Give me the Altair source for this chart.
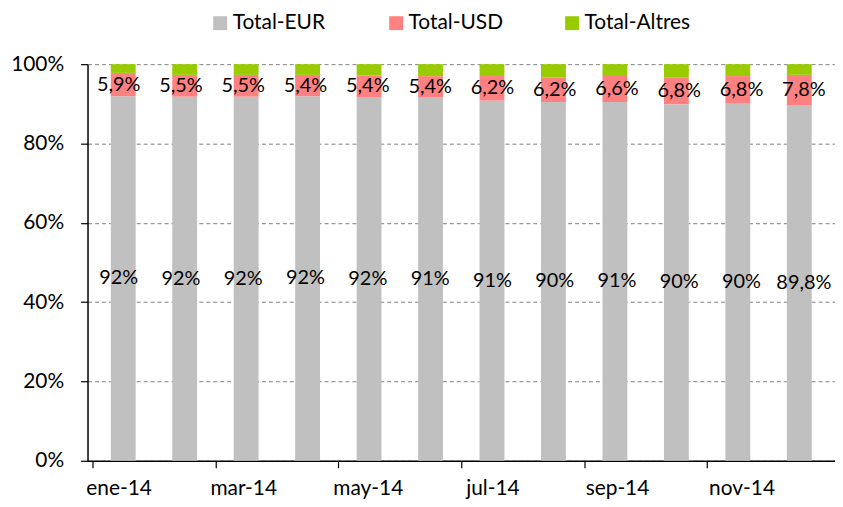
import altair as alt
import pandas as pd

months = ['ene-14', 'feb-14', 'mar-14', 'abr-14', 'may-14', 'jun-14',
          'jul-14', 'ago-14', 'sep-14', 'oct-14', 'nov-14', 'dic-14']
series_names = ['Total-EUR', 'Total-USD', 'Total-Altres']
colors = ['#C0C0C0', '#FF8080', '#99CC00']

eur = [92, 92, 92, 92, 92, 91, 91, 90, 91, 90, 90, 89.8]
usd = [5.9, 5.5, 5.5, 5.4, 5.4, 5.4, 6.2, 6.2, 6.6, 6.8, 6.8, 7.8]
altres = [2.2, 2.7, 2.7, 2.7, 2.9, 3.0, 3.0, 3.3, 3.0, 3.3, 3.0, 2.7]

rows = []
for i, m in enumerate(months):
    for k, (name, vals) in enumerate(zip(series_names, [eur, usd, altres])):
        rows.append({"idx": i, "month": m, "series": name, "value": vals[i], "order": k})
df = pd.DataFrame(rows)

FONT = "Lato"

base = alt.Chart(df).transform_stack(
    stack="value", groupby=["idx"],
    sort=[alt.SortField("order", order="ascending")],
    as_=["y0", "y1"], offset="normalize"
).transform_calculate(
    xc="datum.idx + 0.5",
    mid="(datum.y0 + datum.y1) / 2",
    label="replace(toString(datum.value), '.', ',') + '%'"
)

y_axis = alt.Axis(values=[0, 0.2, 0.4, 0.6, 0.8, 1.0], format=".0%",
                  grid=True, gridDash=[4, 3], gridColor="#808080",
                  gridWidth=1, domainColor="black", domainWidth=1.5,
                  tickColor="black", tickSize=7, tickWidth=1.2,
                  labelFont=FONT, labelFontSize=21, labelColor="black",
                  labelPadding=17)

bars = base.mark_bar(size=25).encode(
    x=alt.X("xc:Q", title=None,
            scale=alt.Scale(domain=[0, 12], nice=False, zero=False),
            axis=alt.Axis(orient="bottom", values=[0, 2, 4, 6, 8, 10],
                          labels=False, grid=False,
                          domainColor="black", domainWidth=1.5,
                          tickColor="black", tickSize=7, tickWidth=1.2)),
    y=alt.Y("y0:Q", title=None,
            scale=alt.Scale(domain=[0, 1], nice=False),
            axis=y_axis),
    y2="y1:Q",
    color=alt.Color("series:N",
                    scale=alt.Scale(domain=series_names, range=colors),
                    sort=series_names,
                    legend=alt.Legend(orient="none", legendX=123, legendY=-52,
                                      direction="horizontal", columns=3,
                                      gridAlign="all", columnPadding=47,
                                      symbolType="square", symbolSize=196,
                                      symbolStrokeWidth=0, labelFont=FONT,
                                      labelFontSize=21, labelColor="black",
                                      labelOffset=2, title=None, padding=0,
                                      labelLimit=300)),
    order=alt.Order("order:Q")
)

texts = base.transform_filter(
    "datum.series != 'Total-Altres'"
).mark_text(font=FONT, fontSize=20, color="black", baseline="middle", align="center").encode(
    x=alt.X("month:O", title=None, sort=months,
            scale=alt.Scale(type="point", domain=months, padding=0.5),
            axis=alt.Axis(orient="bottom", values=months[::2], ticks=False,
                          domain=False, grid=False, labelAngle=0,
                          labelFont=FONT, labelFontSize=21, labelColor="black",
                          labelPadding=17)),
    y=alt.Y("mid:Q", title=None),
    text="label:N"
)

chart = alt.layer(bars, texts).resolve_scale(x="independent").properties(
    width=752, height=399,
    autosize=alt.AutoSizeParams(type="none"),
    padding={"left": 80, "top": 55, "right": 0, "bottom": 43}
).configure_view(stroke=None)

chart.save("out.html", embed_options={"renderer": "svg", "actions": False})
